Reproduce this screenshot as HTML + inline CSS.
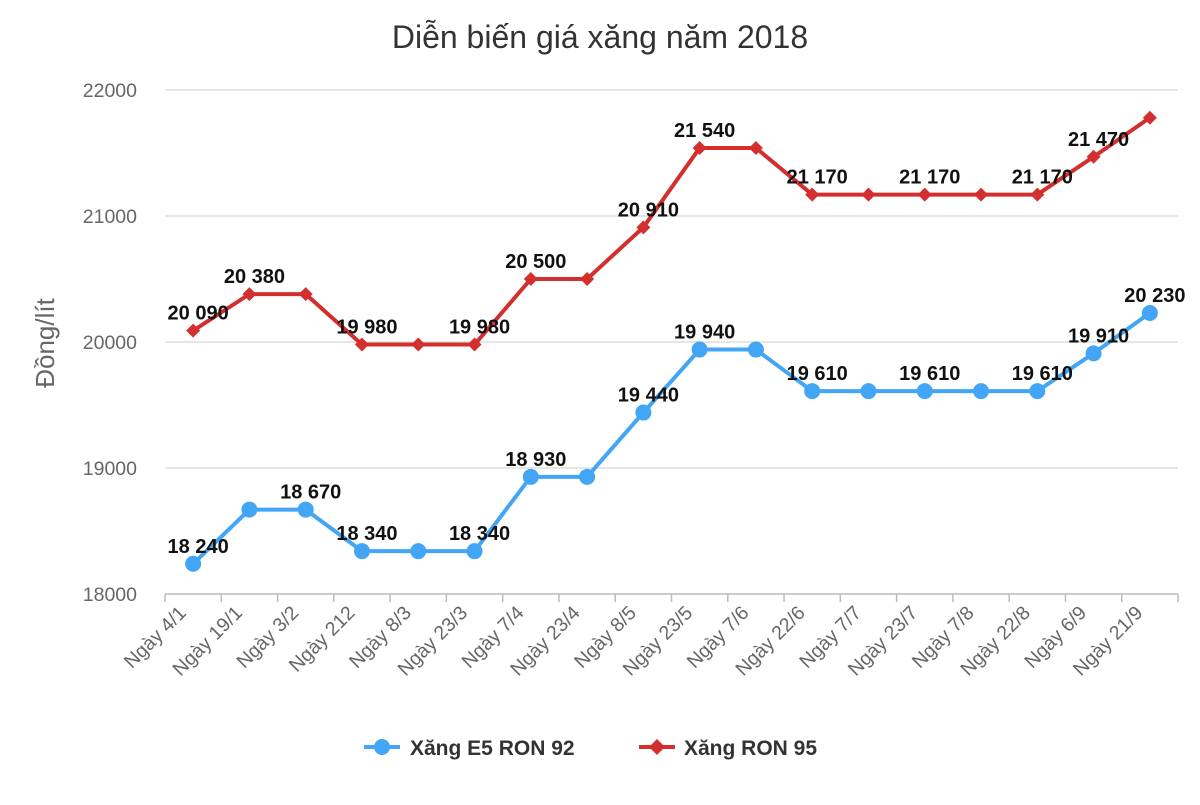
<!DOCTYPE html>
<html><head><meta charset="utf-8"><style>
body{margin:0;background:#fff;font-family:"Liberation Sans",sans-serif}
svg text{font-family:"Liberation Sans",sans-serif}
</style></head><body>
<svg id="c" width="1200" height="800">
<text x="600" y="48" text-anchor="middle" font-size="32" fill="#333">Diễn biến giá xăng năm 2018</text>
<text transform="translate(54,343) rotate(-90)" text-anchor="middle" font-size="26" fill="#666">Đồng/lít</text>
<g id="grid"></g><g id="xax"></g><g id="series"></g>
<g>
<g><line x1="364" y1="747" x2="400" y2="747" stroke="#42a5f5" stroke-width="4"/><circle cx="382" cy="747" r="8" fill="#42a5f5"/><text x="410" y="755" font-size="21" font-weight="bold" fill="#333">Xăng E5 RON 92</text></g>
<g><line x1="639" y1="747" x2="675" y2="747" stroke="#d32f2f" stroke-width="4"/><path d="M657 739 L665 747 L657 755 L649 747Z" fill="#d32f2f"/><text x="684" y="755" font-size="21" font-weight="bold" fill="#333">Xăng RON 95</text></g>
</g>
</svg>
<script>
const categories=["Ngày 4/1","Ngày 19/1","Ngày 3/2","Ngày 212","Ngày 8/3","Ngày 23/3","Ngày 7/4","Ngày 23/4","Ngày 8/5","Ngày 23/5","Ngày 7/6","Ngày 22/6","Ngày 7/7","Ngày 23/7","Ngày 7/8","Ngày 22/8","Ngày 6/9","Ngày 21/9"];
const e5Values=[18240,18670,18670,18340,18340,18340,18930,18930,19440,19940,19940,19610,19610,19610,19610,19610,19910,20230];
const ron95Values=[20090,20380,20380,19980,19980,19980,20500,20500,20910,21540,21540,21170,21170,21170,21170,21170,21470,21780];
const e5Labels=["18 240",null,"18 670","18 340",null,"18 340","18 930",null,"19 440","19 940",null,"19 610",null,"19 610",null,"19 610","19 910","20 230"];
const ron95Labels=["20 090","20 380",null,"19 980",null,"19 980","20 500",null,"20 910","21 540",null,"21 170",null,"21 170",null,"21 170","21 470",null];
const yTicks=[18000,19000,20000,21000,22000];
const NS="http://www.w3.org/2000/svg";
const L=165,R=1178,T=90,B=594,yMin=18000,yMax=22000;
const bw=(R-L)/categories.length;
const xS=i=>L+bw*(i+0.5);
const yS=v=>B-(v-yMin)/(yMax-yMin)*(B-T);
function mk(tag,attrs,parent){const e=document.createElementNS(NS,tag);for(const k in attrs)e.setAttribute(k,attrs[k]);parent.appendChild(e);return e;}
const grid=document.getElementById('grid');
yTicks.forEach(v=>{
 const ln=mk('line',{x1:L,x2:R,y1:yS(v),y2:yS(v),stroke:v===yMin?'#bbb':'#ddd','stroke-width':1.5},grid);
 
 
 const t=mk('text',{x:137,y:yS(v)+7,'text-anchor':'end','font-size':19.5,fill:'#666'},grid);
 t.textContent=v;
 
 
});
const xax=document.getElementById('xax');
for(let i=0;i<=categories.length;i++){
 const tk=mk('line',{x1:L+bw*i,x2:L+bw*i,y1:B,y2:B+8,stroke:'#bbb','stroke-width':1.5},xax);
 
 
}
categories.forEach((c,i)=>{
 const x=xS(i)-6,y=B+20;
 const t=mk('text',{x:x,y:y,'text-anchor':'end','font-size':19.5,fill:'#666',transform:`rotate(-45 ${x} ${y})`},xax);
 t.textContent=c;
 
 
});
const sg=document.getElementById('series');
function drawSeries(vals,labels,color,shape,name){
 const g=mk('g',{},sg);
 
 
 const pl=mk('polyline',{points:vals.map((v,i)=>xS(i)+','+yS(v)).join(' '),fill:'none',stroke:color,'stroke-width':4,'stroke-linejoin':'round'},g);
 
 
 vals.forEach((v,i)=>{
  const x=xS(i),y=yS(v);
  let m;
  if(shape==='circle')m=mk('circle',{cx:x,cy:y,r:8,fill:color},g);
  else m=mk('path',{d:`M${x} ${y-7}L${x+7} ${y}L${x} ${y+7}L${x-7} ${y}Z`,fill:color},g);
  
  
  if(labels[i]){
   const t=mk('text',{x:x+5,y:y-11,'text-anchor':'middle','font-size':20,'font-weight':'bold',fill:'#111'},g);
   t.textContent=labels[i];
   
   
  }
 });
}
drawSeries(ron95Values,ron95Labels,'#d32f2f','diamond','ron95');
drawSeries(e5Values,e5Labels,'#42a5f5','circle','e5');
</script>
</body></html>
